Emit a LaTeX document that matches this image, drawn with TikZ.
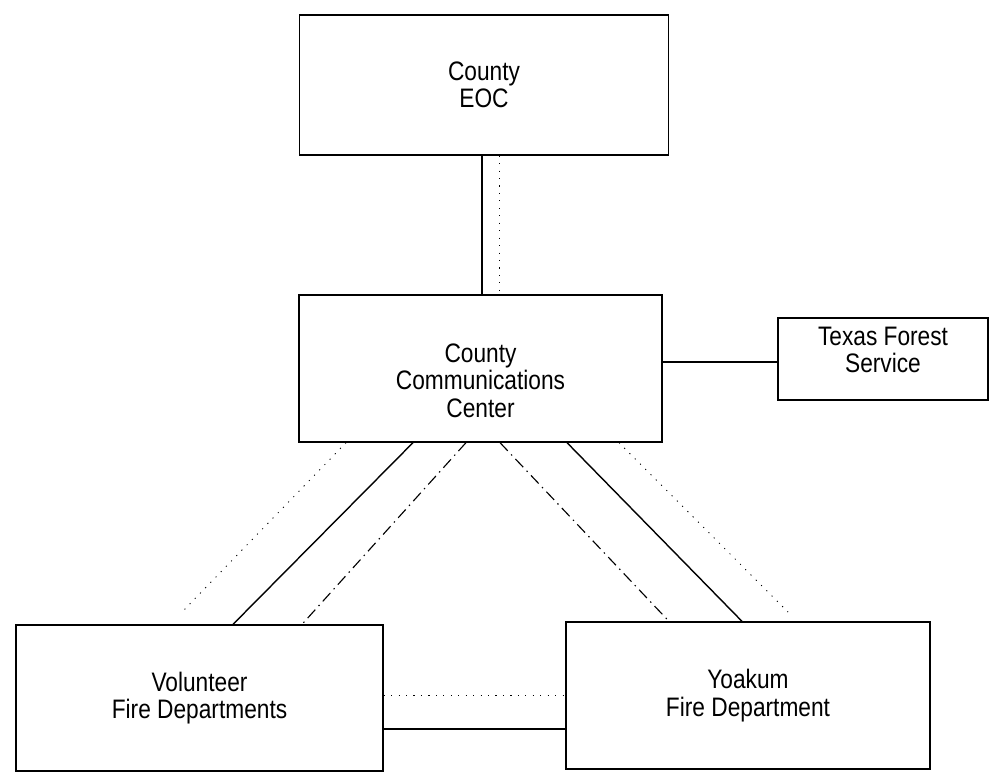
\documentclass[tikz,border=0pt]{standalone}
\usepackage{fontspec}
\setmainfont{Liberation Sans}[FakeStretch=0.85]
\usepackage{tikz}
\usetikzlibrary{calc}

\tikzset{
  box/.style={draw, line width=0.9pt, align=center, inner sep=0pt,
    font=\fontsize{19}{19.5}\selectfont},
  boxtext/.style={align=center, font=\fontsize{19}{19.5}\selectfont},
  link/.style={line width=1pt},
  dotlink/.style={line width=0.6pt, dash pattern=on 0.8pt off 4.5pt},
  dashdotlink/.style={line width=0.8pt, dash pattern=on 8pt off 3.5pt on 1pt off 3.5pt}
}

\begin{document}
\begin{tikzpicture}[x=0.025cm, y=-0.025cm]
\useasboundingbox (0,0) rectangle (997,782);

% boxes
\node[box, minimum width=9.225cm, minimum height=3.5cm] (eoc) at (484,85) {County\\EOC};
\node[box, minimum width=9.075cm, minimum height=3.675cm,
  label={[boxtext, yshift=-0.3cm]center:County\\Communications\\Center}] (comm) at (480.5,368.5) {};
\node[box, minimum width=5.25cm, minimum height=2.05cm,
  label={[boxtext, yshift=0.22cm]center:Texas Forest\\Service}] (tfs) at (883,359) {};
\node[box, minimum width=9.175cm, minimum height=3.65cm] (vol) at (199.5,698) {Volunteer\\Fire Departments};
\node[box, minimum width=9.1cm, minimum height=3.675cm] (yoak) at (748,695.5) {Yoakum\\Fire Department};

% EOC to communications
\draw[link] ($(eoc.south)+(-2,0)$) coordinate (e1) -- (e1 |- comm.north);
\draw[dotlink] ($(eoc.south)+(15,0)$) coordinate (e2) -- (e2 |- comm.north);

% forest service
\draw[link] ($(tfs.west)+(0,3)$) coordinate (t1) -- (t1 -| comm.east);

% communications to fire departments
\coordinate (dl) at (182,612);
\coordinate (dr) at (788,612);
\draw[dotlink] ($(comm.south)+(-134.5,0)$) -- (dl);
\draw[link] ($(comm.south)+(-67.5,0)$) -- ($(vol.north)+(33.5,0)$);
\draw[dashdotlink] ($(comm.south)+(-14.5,0)$) -- ($(vol.north)+(102.5,0)$);
\draw[dashdotlink] ($(comm.south)+(19.5,0)$) -- ($(yoak.north)+(-79,0)$);
\draw[link] ($(comm.south)+(86.5,0)$) -- ($(yoak.north)+(-6,0)$);
\draw[dotlink] ($(comm.south)+(138.5,0)$) -- (dr);

% between fire departments
\draw[dotlink] ($(vol.east)+(0,-3)$) coordinate (v1) -- (v1 -| yoak.west);
\draw[link] ($(vol.east)+(0,31)$) coordinate (v2) -- (v2 -| yoak.west);
\end{tikzpicture}
\end{document}
